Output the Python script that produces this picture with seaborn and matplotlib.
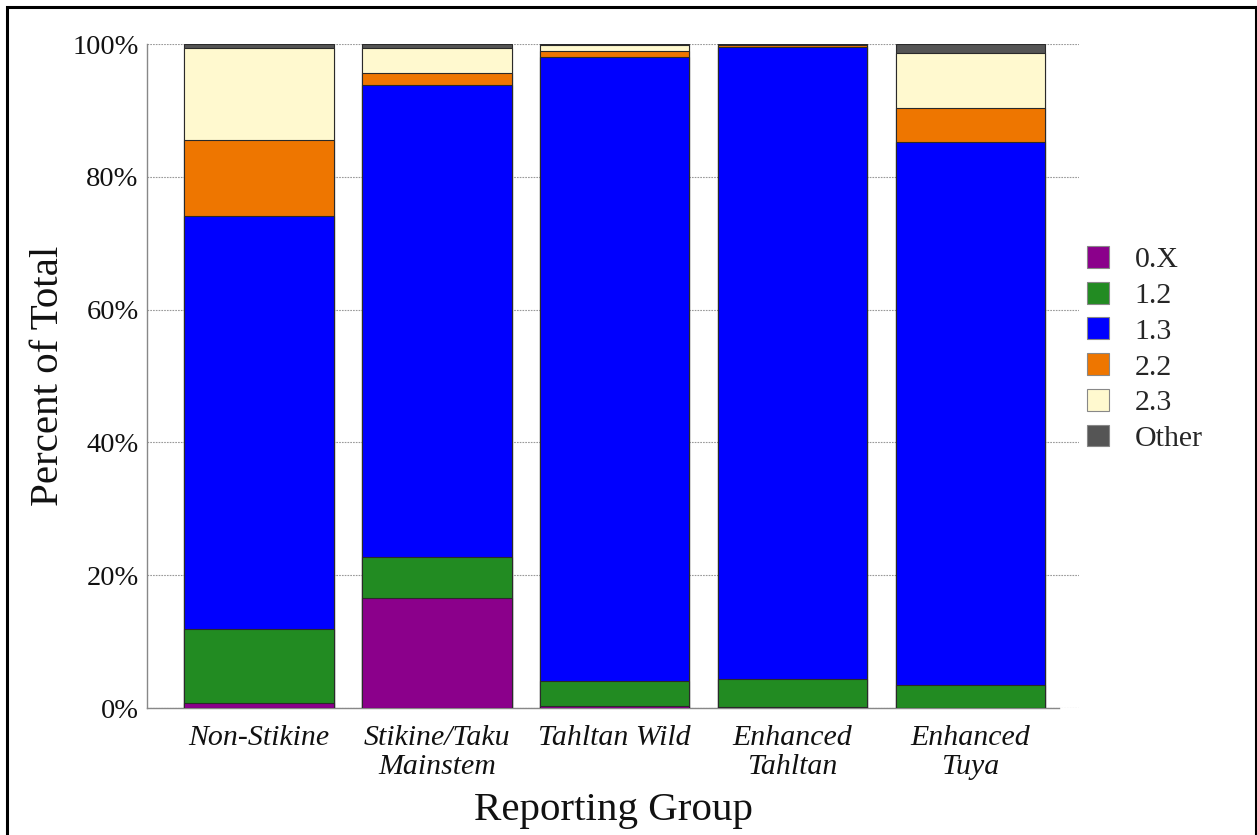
import numpy as np
import pandas as pd
import matplotlib
matplotlib.use("Agg")
import matplotlib.pyplot as plt
from matplotlib.patches import Patch, Rectangle
import seaborn as sns

groups = ["Non-Stikine", "Stikine/Taku\nMainstem", "Tahltan Wild", "Enhanced\nTahltan", "Enhanced\nTuya"]
series = ["0.X", "1.2", "1.3", "2.2", "2.3", "Other"]
v_0X = [0.7, 16.5, 0.35, 0.2, 0.05]
v_12 = [11.25, 6.2, 3.65, 4.1, 3.4]
v_13 = [62.15, 71.1, 94.1, 95.3, 81.75]
v_22 = [11.5, 1.8, 0.9, 0.3, 5.2]
v_23 = [13.8, 3.8, 0.9, 0.05, 8.3]
v_oth = [0.6, 0.6, 0.1, 0.05, 1.3]
colors = ["#8B008B", "#228B22", "#0000FF", "#EE7600", "#FFF9CF", "#555555"]
yticks = [0, 20, 40, 60, 80, 100]
ytick_labels = ["0%", "20%", "40%", "60%", "80%", "100%"]

sns.set_theme(style="white")
plt.rcParams["font.family"] = ["Liberation Serif", "DejaVu Serif"]

vals = np.array([v_0X, v_12, v_13, v_22, v_23, v_oth])
cum = np.cumsum(vals, axis=0)

fig = plt.figure(figsize=(12.57, 8.35), dpi=100)
ax = fig.add_axes([147/1257, 1-708/835, (1079-147)/1257, (708-44)/835])

# draw cumulative bars from top series down so visible segments stack
for i in range(len(series) - 1, -1, -1):
    df = pd.DataFrame({"group": groups, "val": cum[i]})
    sns.barplot(data=df, x="group", y="val", order=groups, color=colors[i],
                width=0.84, edgecolor="#2a2a2a", linewidth=0.8, saturation=1,
                ax=ax, zorder=3)

ax.set_ylim(0, 100)
ax.set_xlim(-0.63, 4.61)
ax.set_yticks(yticks)
ax.set_yticklabels(ytick_labels, fontsize=20.5)
ax.set_xticks(range(len(groups)))
ax.set_xticklabels(groups, fontsize=21.5, style="italic", linespacing=1.15)
ax.set_xticks(np.arange(0.5, 5, 1.0), minor=True)
ax.tick_params(axis="x", which="major", length=0, pad=12, labelcolor="#111111")
ax.tick_params(axis="x", which="minor", length=6, width=1, color="#888888", direction="out")
ax.tick_params(axis="y", which="major", length=4, width=1, color="#888888", direction="out",
               pad=2, labelcolor="#111111")
ax.yaxis.grid(True, linestyle=(0, (1.5, 1.0)), color="#999999", linewidth=0.8, zorder=0)
ax.xaxis.grid(False)
ax.set_axisbelow(True)
for s in ["top", "right"]:
    ax.spines[s].set_visible(False)
for s in ["left", "bottom"]:
    ax.spines[s].set_color("#888888")
    ax.spines[s].set_linewidth(1.0)
ax.spines["bottom"].set_bounds(-0.63, 4.5)
ax.set_ylabel("Percent of Total", fontsize=29.5, labelpad=4, color="#111111")
ax.set_xlabel("Reporting Group", fontsize=29.5, labelpad=9, color="#111111")

handles = [Patch(facecolor=c, edgecolor="#888888", linewidth=0.8, label=s)
           for s, c in zip(series, colors)]
fig.legend(handles=handles, loc="center left", bbox_to_anchor=(1060/1257, 1-349/835),
           frameon=False, fontsize=21.5, handlelength=0.75, handleheight=0.75,
           handletextpad=0.85, labelspacing=0.28)

fig.add_artist(Rectangle((6.5/1257, -0.05), (1255.5-6.5)/1257, 1.05 - 6.5/835,
                         transform=fig.transFigure, fill=False, edgecolor="black",
                         linewidth=2.2))

fig.savefig("out.png", dpi=100, facecolor="white")
